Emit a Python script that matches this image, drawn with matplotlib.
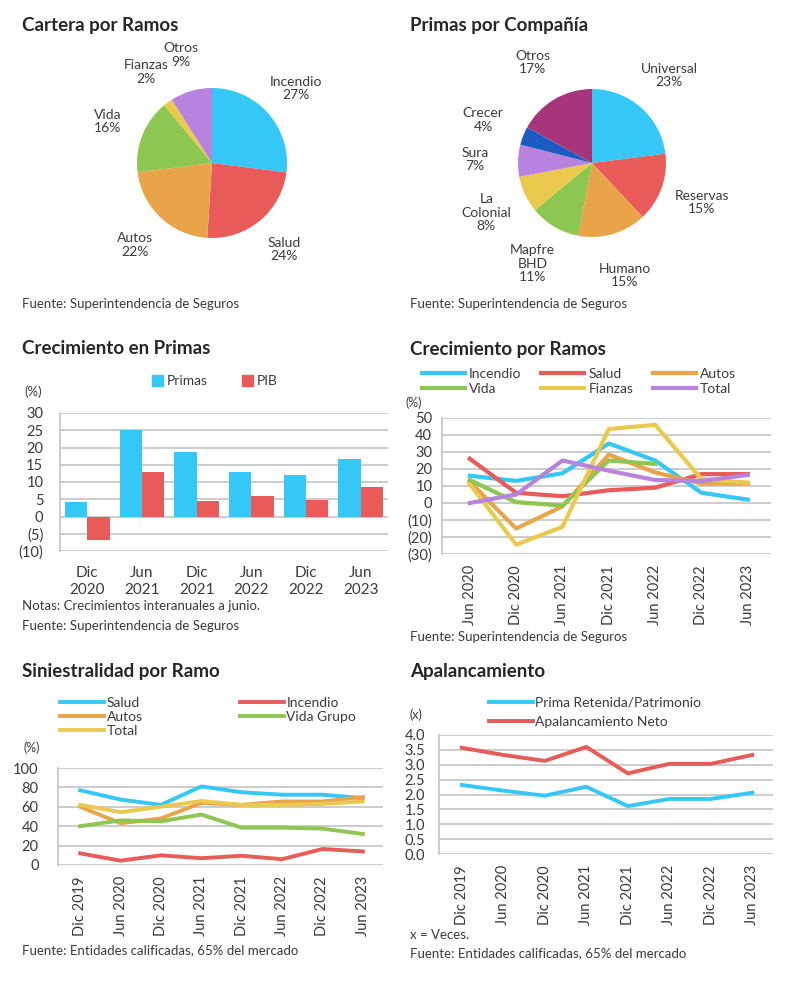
import matplotlib
matplotlib.use('Agg')
import matplotlib.pyplot as plt
from matplotlib.lines import Line2D
from matplotlib.patches import Patch
from matplotlib.ticker import FuncFormatter, MultipleLocator
import numpy as np

plt.rcParams['font.family'] = ['Lato', 'DejaVu Sans']

# ---------------- data ----------------
cartera_labels = ['Incendio', 'Salud', 'Autos', 'Vida', 'Fianzas', 'Otros']
cartera_values = [27, 24, 22, 16, 2, 9]

compania_labels = ['Universal', 'Reservas', 'Humano', 'Mapfre\nBHD', 'La\nColonial', 'Sura', 'Crecer', 'Otros']
compania_values = [23, 15, 15, 11, 8, 7, 4, 17]

primas_cats = ['Dic\n2020', 'Jun\n2021', 'Dic\n2021', 'Jun\n2022', 'Dic\n2022', 'Jun\n2023']
primas_vals = [4.2, 25.0, 18.8, 13.0, 12.0, 16.8]
pib_vals = [-6.8, 12.8, 4.6, 6.0, 4.9, 8.5]

ramos_cats = ['Jun 2020', 'Dic 2020', 'Jun 2021', 'Dic 2021', 'Jun 2022', 'Dic 2022', 'Jun 2023']
ramos_incendio = [16, 13, 17.5, 35, 25, 6, 2]
ramos_salud = [26, 6, 4, 7.5, 9, 17, 17]
ramos_autos = [12.5, -15, -2, 28.5, 18, 11.5, 11.5]
ramos_vida = [13.5, 0.5, -1.5, 25, 23, np.nan, np.nan]
ramos_fianzas = [11, -24.5, -14, 43.5, 46, 14, 12]
ramos_total = [0, 5, 25, 19, 13.5, 13, 16.5]

sini_cats = ['Dic 2019', 'Jun 2020', 'Dic 2020', 'Jun 2021', 'Dic 2021', 'Jun 2022', 'Dic 2022', 'Jun 2023']
sini_salud = [77, 67.5, 62, 81, 75, 72.5, 72.5, 69]
sini_incendio = [12, 4.5, 10, 7, 9.5, 6, 16.5, 14]
sini_autos = [60, 43, 48, 64, 62, 65.5, 65.5, 70]
sini_vida = [40, 46, 45, 52, 38.5, 38.5, 37.5, 32]
sini_total = [62, 54.5, 60, 66, 62, 62, 63, 65.5]

apal_cats = ['Dic 2019', 'Jun 2020', 'Dic 2020', 'Jun 2021', 'Dic 2021', 'Jun 2022', 'Dic 2022', 'Jun 2023']
apal_prima = [2.32, 2.13, 1.96, 2.26, 1.61, 1.85, 1.85, 2.06]
apal_neto = [3.57, 3.33, 3.13, 3.60, 2.71, 3.03, 3.03, 3.33]

# ---------------- styles ----------------
BLUE = '#35C8F6'
RED = '#E85B59'
ORANGE = '#E9A449'
GREEN = '#8DC650'
YELLOW = '#EBC94C'
PURPLE = '#B883DE'
DKBLUE = '#1C5CC2'
MAGENTA = '#A8357C'
GRID = '#C4C4C4'
TXT = '#3A3A3A'
TITLE = '#262626'

W, H = 800, 985
fig = plt.figure(figsize=(W / 100, H / 100), dpi=100)
fig.patch.set_facecolor('white')


def rect(l, t, r, b):
    return [l / W, 1 - b / H, (r - l) / W, (b - t) / H]


def ftext(x, y, s, **kw):
    kw.setdefault('color', TXT)
    kw.setdefault('va', 'center')
    kw.setdefault('ha', 'left')
    fig.text(x / W, 1 - y / H, s, **kw)


def title(x, y, s):
    ftext(x, y, s, fontsize=13.5, fontweight='bold', color=TITLE)


def paren_fmt(dec=0):
    def f(v, p):
        if v < 0:
            return f'({abs(v):.{dec}f})'
        return f'{v:.{dec}f}'
    return FuncFormatter(f)


def style_axes(ax):
    for s in ['top', 'right', 'bottom']:
        ax.spines[s].set_visible(False)
    ax.spines['left'].set_color(GRID)
    ax.spines['left'].set_linewidth(1.2)
    ax.grid(axis='y', color=GRID, linewidth=1.2)
    ax.set_axisbelow(True)
    ax.tick_params(length=0, colors=TXT, labelsize=10.5)


def pie_chart(cx, cy, r, values, labels, colors, dist):
    ax = fig.add_axes(rect(cx - r, cy - r, cx + r, cy + r))
    wedges, texts = ax.pie(values, labels=[f'{l}\n{v}%' for l, v in zip(labels, values)],
                           colors=colors, startangle=90, counterclock=False,
                           labeldistance=dist, wedgeprops=dict(linewidth=0),
                           textprops=dict(fontsize=10, color=TXT, linespacing=1.15))
    for t in texts:
        t.set_ha('center')
        t.set_va('center')
    ax.set_xlim(-1, 1)
    ax.set_ylim(-1, 1)
    ax.set_aspect('equal')
    return ax


# ---------------- Cartera por Ramos ----------------
title(22, 25, 'Cartera por Ramos')
pie_chart(212, 163, 75, cartera_values, cartera_labels,
          [BLUE, RED, ORANGE, GREEN, YELLOW, PURPLE], 1.5)
ftext(22, 304, 'Fuente: Superintendencia de Seguros', fontsize=9.5)

# ---------------- Primas por Compañía ----------------
title(410, 25, 'Primas por Compañía')
pie_chart(592, 163, 74, compania_values, compania_labels,
          [BLUE, RED, ORANGE, GREEN, YELLOW, PURPLE, DKBLUE, MAGENTA], 1.58)
ftext(410, 304, 'Fuente: Superintendencia de Seguros', fontsize=9.5)

# ---------------- Crecimiento en Primas ----------------
title(22, 349, 'Crecimiento en Primas')
ax = fig.add_axes(rect(60, 413, 388, 551))
x = np.arange(len(primas_cats))
bw = 0.41
ax.bar(x - bw / 2, primas_vals, width=bw, color=BLUE, label='Primas')
ax.bar(x + bw / 2, pib_vals, width=bw, color=RED, label='PIB')
ax.set_ylim(-10, 30)
ax.set_xlim(-0.5, len(primas_cats) - 0.5)
ax.yaxis.set_major_locator(MultipleLocator(5))
ax.yaxis.set_major_formatter(paren_fmt())
ax.set_xticks(x)
ax.set_xticklabels(primas_cats, linespacing=1.25)
style_axes(ax)
ax.tick_params(axis='x', pad=11, labelsize=11)
ax.tick_params(axis='y', pad=12)
for lb in ax.get_yticklabels():
    lb.set_ha('right')
leg = ax.legend(handles=[Patch(color=BLUE, label='Primas'), Patch(color=RED, label='PIB')],
                ncol=2, frameon=False, fontsize=10, handlelength=0.8, handleheight=0.8,
                handletextpad=0.3, columnspacing=2.4, borderpad=0,
                loc='center left', bbox_to_anchor=(145 / W, 1 - 381 / H),
                bbox_transform=fig.transFigure)
for t in leg.get_texts():
    t.set_color(TXT)
ftext(24, 392, '(%)', fontsize=9.5)
ftext(22, 606, 'Notas: Crecimientos interanuales a junio.', fontsize=9.5)
ftext(22, 626, 'Fuente: Superintendencia de Seguros', fontsize=9.5)

# ---------------- Crecimiento por Ramos ----------------
title(410, 349, 'Crecimiento por Ramos')
ax = fig.add_axes(rect(442, 418, 771, 554))
x = np.arange(len(ramos_cats))
lw = 3.0
l_inc, = ax.plot(x, ramos_incendio, color=BLUE, lw=lw, label='Incendio')
l_sal, = ax.plot(x, ramos_salud, color=RED, lw=lw, label='Salud')
l_aut, = ax.plot(x, ramos_autos, color=ORANGE, lw=lw, label='Autos')
l_vid, = ax.plot(x, ramos_vida, color=GREEN, lw=lw, label='Vida')
l_fia, = ax.plot(x, ramos_fianzas, color=YELLOW, lw=lw, label='Fianzas')
l_tot, = ax.plot(x, ramos_total, color=PURPLE, lw=lw, label='Total')
ax.set_ylim(-30, 50)
ax.set_xlim(-0.6, len(ramos_cats) - 0.5)
ax.yaxis.set_major_locator(MultipleLocator(10))
ax.yaxis.set_major_formatter(paren_fmt())
ax.set_xticks(x)
ax.set_xticklabels(ramos_cats, rotation=90)
style_axes(ax)
ax.tick_params(axis='x', pad=8, labelsize=10.5)
ax.tick_params(axis='y', pad=7)
leg = ax.legend(handles=[l_inc, l_vid, l_sal, l_fia, l_aut, l_tot], ncol=3, frameon=False,
                fontsize=10, handlelength=3.1, handletextpad=0.3, columnspacing=1.4,
                labelspacing=0.2, borderpad=0,
                loc='upper left', bbox_to_anchor=(415 / W, 1 - 361 / H),
                bbox_transform=fig.transFigure)
for t in leg.get_texts():
    t.set_color(TXT)
ftext(405, 403, '(%)', fontsize=9)
ftext(410, 637, 'Fuente: Superintendencia de Seguros', fontsize=9.5)

# ---------------- Siniestralidad por Ramo ----------------
title(22, 672, 'Siniestralidad por Ramo')
ax = fig.add_axes(rect(58, 768, 383, 865))
x = np.arange(len(sini_cats))
lw = 2.8
s_sal, = ax.plot(x, sini_salud, color=BLUE, lw=lw, label='Salud')
s_inc, = ax.plot(x, sini_incendio, color=RED, lw=lw, label='Incendio')
s_aut, = ax.plot(x, sini_autos, color=ORANGE, lw=lw, label='Autos')
s_vid, = ax.plot(x, sini_vida, color=GREEN, lw=lw, label='Vida Grupo')
s_tot, = ax.plot(x, sini_total, color=YELLOW, lw=lw, label='Total')
ax.set_ylim(0, 100)
ax.set_xlim(-0.55, len(sini_cats) - 0.5)
ax.yaxis.set_major_locator(MultipleLocator(20))
ax.yaxis.set_major_formatter(paren_fmt())
ax.set_xticks(x)
ax.set_xticklabels(sini_cats, rotation=90)
style_axes(ax)
ax.tick_params(axis='x', pad=8, labelsize=10.5)
ax.tick_params(axis='y', pad=14)
leg = ax.legend(handles=[s_sal, s_aut, s_tot, s_inc, s_vid], ncol=2, frameon=False,
                fontsize=10, handlelength=3.2, handletextpad=0.15, columnspacing=7.0,
                labelspacing=0.15, borderpad=0,
                loc='upper left', bbox_to_anchor=(53 / W, 1 - 690 / H),
                bbox_transform=fig.transFigure)
for t in leg.get_texts():
    t.set_color(TXT)
ftext(23, 748, '(%)', fontsize=9)
ftext(22, 950, 'Fuente: Entidades calificadas, 65% del mercado', fontsize=9.5)

# ---------------- Apalancamiento ----------------
title(410, 672, 'Apalancamiento')
ax = fig.add_axes(rect(439, 735, 773, 854))
x = np.arange(len(apal_cats))
lw = 2.8
a_pr, = ax.plot(x, apal_prima, color=BLUE, lw=lw, label='Prima Retenida/Patrimonio')
a_ne, = ax.plot(x, apal_neto, color=RED, lw=lw, label='Apalancamiento Neto')
ax.set_ylim(0, 4)
ax.set_xlim(-0.55, len(apal_cats) - 0.5)
ax.yaxis.set_major_locator(MultipleLocator(0.5))
ax.yaxis.set_major_formatter(paren_fmt(1))
ax.set_xticks(x)
ax.set_xticklabels(apal_cats, rotation=90)
style_axes(ax)
ax.tick_params(axis='x', pad=8, labelsize=10.5)
ax.tick_params(axis='y', pad=10)
leg = ax.legend(handles=[a_pr, a_ne], ncol=1, frameon=False,
                fontsize=10, handlelength=3.2, handletextpad=0.15,
                labelspacing=0.5, borderpad=0,
                loc='upper left', bbox_to_anchor=(482 / W, 1 - 690 / H),
                bbox_transform=fig.transFigure)
for t in leg.get_texts():
    t.set_color(TXT)
ftext(410, 715, '(x)', fontsize=9)
ftext(410, 935, 'x = Veces.', fontsize=9.5)
ftext(410, 953, 'Fuente: Entidades calificadas, 65% del mercado', fontsize=9.5)

fig.savefig('out.png', dpi=100, facecolor='white')
